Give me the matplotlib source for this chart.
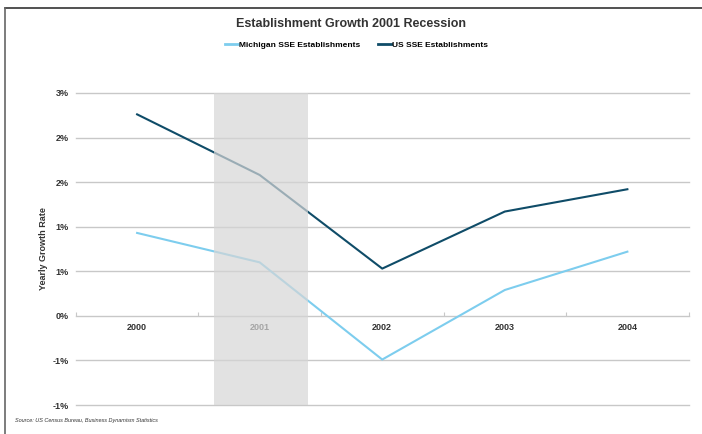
import matplotlib.pyplot as plt
from matplotlib.lines import Line2D
from matplotlib.ticker import FixedLocator, FuncFormatter
import math

years = ["2000", "2001", "2002", "2003", "2004"]
michigan = [0.93, 0.60, -0.49, 0.29, 0.72]
us = [2.26, 1.58, 0.53, 1.17, 1.42]
y_ticks = [-1.0, -0.5, 0.0, 0.5, 1.0, 1.5, 2.0, 2.5]

plt.rcParams['font.family'] = ['Liberation Sans', 'DejaVu Sans']


def excel_pct(v):
    # rounds half away from zero, like the source spreadsheet
    r = math.floor(abs(v) + 0.5)
    return f"{'-' if v < 0 and r else ''}{r}%"


fig = plt.figure(figsize=(7.02, 4.34), dpi=100)
ax = fig.add_axes([0.108, 0.0668, 0.873, 0.719])

x = list(range(len(years)))
ax.plot(x, michigan, color='#7dcdee', lw=1.5, zorder=3)
ax.plot(x, us, color='#0f4c68', lw=1.5, zorder=3)

# recession shading sits on top of the lines
ax.axvspan(0.626, 1.392, color='#d6d6d6', alpha=0.7, lw=0, zorder=4)

ax.set_xlim(-0.5, 4.5)
ax.set_ylim(-1.0, 2.5)

for y in y_ticks:
    if y != 0:
        ax.axhline(y, color='#c8c8c8', lw=1, zorder=1, clip_on=False)

for s in ['top', 'right', 'left']:
    ax.spines[s].set_visible(False)
ax.spines['bottom'].set_position(('data', 0))
ax.spines['bottom'].set_color('#c8c8c8')
ax.spines['bottom'].set_linewidth(1)

ax.xaxis.set_major_locator(FixedLocator([i - 0.5 for i in range(6)]))
ax.xaxis.set_major_formatter(FuncFormatter(lambda v, p: ''))
ax.xaxis.set_minor_locator(FixedLocator(x))
ax.set_xticklabels(years, minor=True)
ax.tick_params(axis='x', which='major', direction='in', length=3, color='#c8c8c8')
ax.tick_params(axis='x', which='minor', length=0, pad=5, labelsize=6.5, labelcolor='#333333')
for lbl in ax.get_xticklabels(minor=True):
    lbl.set_fontweight('bold')
    lbl.set_zorder(2)

ax.set_yticks(y_ticks)
ax.set_yticklabels([excel_pct(v) for v in y_ticks],
                   fontsize=6.5, fontweight='bold', color='#333333')
ax.tick_params(axis='y', length=0, pad=5)
ax.set_ylabel("Yearly Growth Rate", fontsize=6.5, fontweight='bold', color='#333333', labelpad=3)

fig.text(0.5, 0.945, "Establishment Growth 2001 Recession", ha='center', va='center',
         fontsize=9, fontweight='bold', color='#333333')

handles = [Line2D([], [], color='#7dcdee', lw=2),
           Line2D([], [], color='#0f4c68', lw=2)]
fig.legend(handles, ["Michigan SSE Establishments", "US SSE Establishments"],
           loc='center', bbox_to_anchor=(0.508, 0.897), ncol=2, frameon=False,
           prop={'size': 6, 'weight': 'bold'}, handlelength=1.5, handletextpad=0.1,
           columnspacing=2.2)

fig.text(0.022, 0.032, "Source: US Census Bureau, Business Dynamism Statistics",
         fontsize=4, style='italic', color='#333333', va='center')

# outer frame (top and left edges visible)
fig.add_artist(Line2D([0.007, 1.0], [0.982, 0.982], transform=fig.transFigure, color='#333333', lw=1.2))
fig.add_artist(Line2D([0.007, 0.007], [0.0, 0.982], transform=fig.transFigure, color='#666666', lw=1.2))

fig.savefig("out.png", dpi=100)
